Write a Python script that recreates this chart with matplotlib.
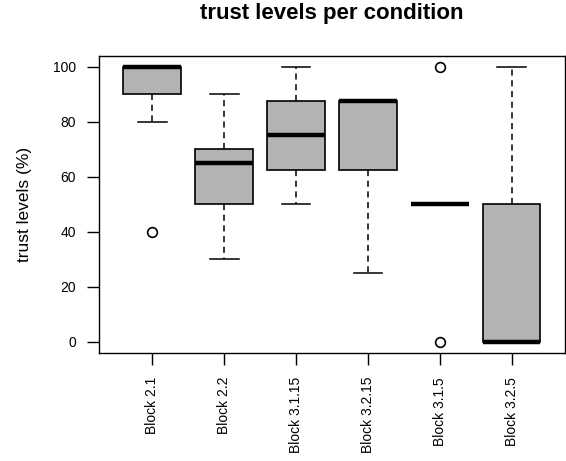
import matplotlib
matplotlib.use("Agg")
import matplotlib.pyplot as plt

plt.rcParams['font.family'] = ['Liberation Sans', 'DejaVu Sans']

# five-number summaries per condition, plus outlying points
conditions = ["Block 2.1", "Block 2.2", "Block 3.1.15", "Block 3.2.15", "Block 3.1.5", "Block 3.2.5"]
whisker_lo = [80, 30, 50, 25, 50, 0]
q1 = [90, 50, 62.5, 62.5, 50, 0]
medians = [100, 65, 75, 87.5, 50, 0]
q3 = [100, 70, 87.5, 87.5, 50, 50]
whisker_hi = [100, 90, 100, 87.5, 50, 100]
outliers = [[40], [], [], [], [0, 100], []]

stats = []
for i, name in enumerate(conditions):
    stats.append(dict(label=name, whislo=whisker_lo[i], q1=q1[i], med=medians[i],
                      q3=q3[i], whishi=whisker_hi[i], fliers=outliers[i]))

fig = plt.figure(figsize=(5.66, 4.61), dpi=100)
ax = fig.add_axes([0.175, 0.235, 0.823, 0.644])

ax.bxp(stats, positions=range(1, 7), widths=0.8, patch_artist=True,
       boxprops=dict(facecolor="#b3b3b3", edgecolor="black", linewidth=1.2),
       medianprops=dict(color="black", linewidth=3.2, solid_capstyle="butt"),
       whiskerprops=dict(color="black", linestyle=(0, (4, 3)), linewidth=1.1),
       capprops=dict(color="black", linewidth=1.1),
       flierprops=dict(marker="o", markersize=7, markerfacecolor="none",
                       markeredgecolor="black", markeredgewidth=1.2))

ax.set_xlim(0.26, 6.74)
ax.set_ylim(-4, 104)
ax.set_yticks([0, 20, 40, 60, 80, 100])
ax.set_xticks(range(1, 7))
ax.set_xticklabels(conditions, rotation=90, fontsize=10)
ax.tick_params(axis="y", labelsize=10, length=8.5, width=1.0, pad=8)
ax.tick_params(axis="x", length=8.5, width=1.0, pad=9)
ax.set_ylabel("trust levels (%)", fontsize=12.5, labelpad=15)
for s in ax.spines.values():
    s.set_linewidth(1.0)

fig.text(0.587, 0.971, "trust levels per condition", ha="center", va="center",
         fontsize=16, fontweight="bold")

fig.savefig("out.png", dpi=100)
